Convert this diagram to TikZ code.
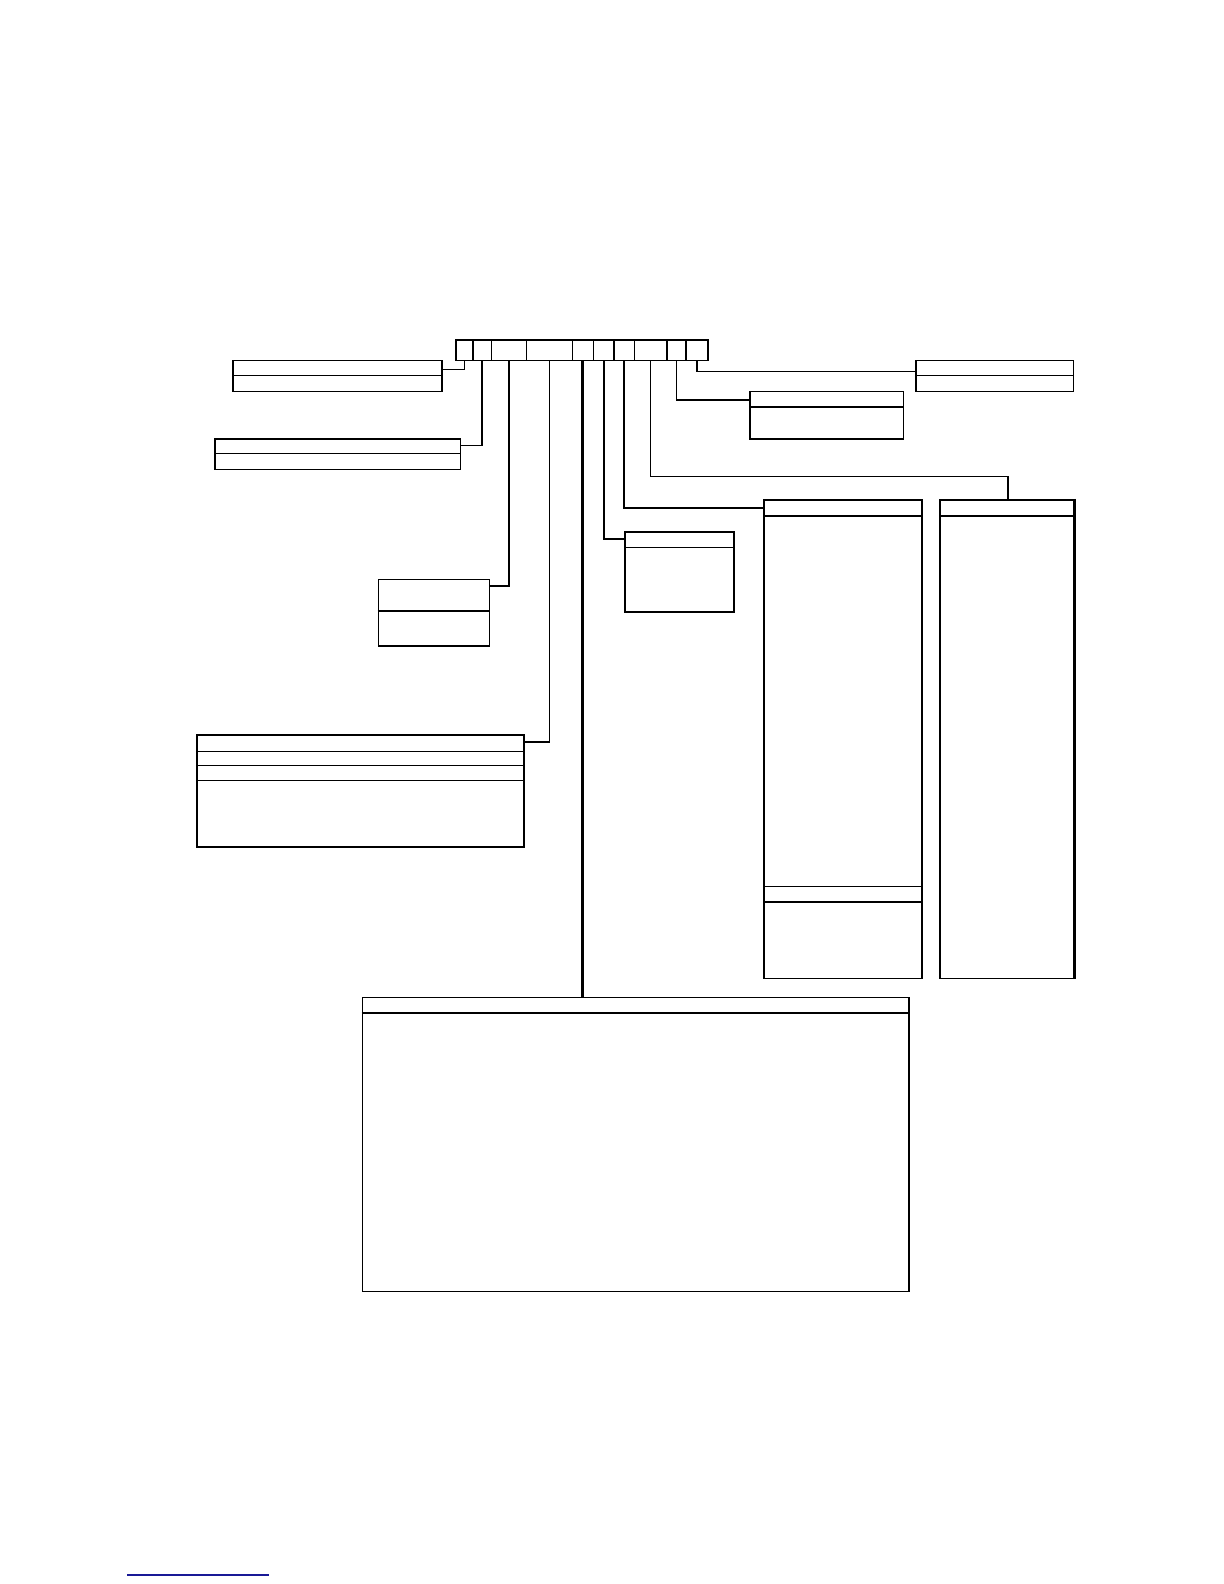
\documentclass[tikz,border=0pt]{standalone}
\usetikzlibrary{positioning}
\definecolor{rulenavy}{RGB}{25,25,150}
\begin{document}
\begin{tikzpicture}[x=0.5pt,y=-0.5pt,
  box/.style={draw, line width=0.8pt, inner sep=0pt, anchor=north west},
  cell/.style={draw, line width=0.8pt, inner sep=0pt, anchor=north west, minimum height=10pt},
  wire/.style={line width=0.8pt}]
\useasboundingbox (0,0) rectangle (1212,1568.5);

% the record strip
\node[cell, minimum width=8.25pt]  (c1)  at (451,336) {};
\node[cell, minimum width=9.1pt]   (c2)  at (467.5,336) {};
\node[cell, minimum width=17.35pt] (c3)  at (485.7,336) {};
\node[cell, minimum width=22.8pt]  (c4)  at (520.4,336) {};
\node[cell, minimum width=10.45pt] (c5)  at (566,336) {};
\node[cell, minimum width=10.25pt] (c6)  at (586.9,336) {};
\node[cell, minimum width=9.95pt]  (c7)  at (607.4,336) {};
\node[cell, minimum width=16.05pt] (c8)  at (627.3,336) {};
\node[cell, minimum width=9.55pt]  (c9)  at (659.4,336) {};
\node[cell, minimum width=10.75pt] (c10) at (678.5,336) {};

% boxes, left side
\node[box, minimum width=103.5pt, minimum height=15.5pt] (b1) at (230,356) {};
\node[box, minimum width=121.5pt, minimum height=15pt]   (b2) at (212,434) {};
\node[box, minimum width=55pt,    minimum height=33pt]   (b3) at (374,573) {};
\node[box, minimum width=162pt,   minimum height=55.5pt] (b4) at (194,727) {};
\node[box, minimum width=270.5pt, minimum height=145.5pt] (b5) at (358,987) {};

% boxes, right side
\node[box, minimum width=54pt,  minimum height=39.5pt] (b6)  at (618,526) {};
\node[box, minimum width=78pt,  minimum height=237pt]  (b7)  at (756,494) {};
\node[box, minimum width=66pt,  minimum height=237pt]  (b8)  at (930,494) {};
\node[box, minimum width=76pt,  minimum height=23.5pt] (b9)  at (742,387) {};
\node[box, minimum width=78pt,  minimum height=15.5pt] (b10) at (906,356) {};

% dividers
\draw[wire] ([yshift=-8pt]b1.north west) -- ([yshift=-8pt]b1.north east);
\draw[wire] ([yshift=-7.5pt]b2.north west) -- ([yshift=-7.5pt]b2.north east);
\draw[wire] ([yshift=-16pt]b3.north west) -- ([yshift=-16pt]b3.north east);
\draw[wire] ([yshift=-8.5pt]b4.north west) -- ([yshift=-8.5pt]b4.north east);
\draw[wire] ([yshift=-15.5pt]b4.north west) -- ([yshift=-15.5pt]b4.north east);
\draw[wire] ([yshift=-23pt]b4.north west) -- ([yshift=-23pt]b4.north east);
\draw[wire] ([yshift=-8pt]b5.north west) -- ([yshift=-8pt]b5.north east);
\draw[wire] ([yshift=-8pt]b6.north west) -- ([yshift=-8pt]b6.north east);
\draw[wire] ([yshift=-8.5pt]b7.north west) -- ([yshift=-8.5pt]b7.north east);
\draw[wire] ([yshift=-192pt]b7.north west) -- ([yshift=-192pt]b7.north east);
\draw[wire] ([yshift=-199.5pt]b7.north west) -- ([yshift=-199.5pt]b7.north east);
\draw[wire] ([yshift=-8.5pt]b8.north west) -- ([yshift=-8.5pt]b8.north east);
\draw[line width=1.5pt] (b8.north east) -- (b8.south east);
\draw[wire] ([yshift=-8pt]b9.north west) -- ([yshift=-8pt]b9.north east);
\draw[wire] ([yshift=-8pt]b10.north west) -- ([yshift=-8pt]b10.north east);

% connectors
\coordinate (k8) at (998,472);
\draw[wire] (c1.south) |- ([yshift=-5pt]b1.north east);
\draw[wire] (c2.south) |- ([yshift=-3.5pt]b2.north east);
\draw[wire] (c3.south) |- ([yshift=-3.5pt]b3.north east);
\draw[wire] (c4.south) |- ([yshift=-4pt]b4.north east);
\draw[line width=1.5pt] (c5.south) -- (c5.south |- b5.north);
\draw[wire] (c6.south) |- ([yshift=-4pt]b6.north west);
\draw[wire] (c7.south) |- ([yshift=-4.5pt]b7.north west);
\draw[wire] (c8.south) |- (k8) -- (k8 |- b8.north);
\draw[wire] (c9.south) |- ([yshift=-4.5pt]b9.north west);
\draw[wire] (c10.south) |- ([yshift=-6pt]b10.north west);

% footnote rule
\draw[rulenavy, line width=0.8pt] (126,1559.5) -- (266.5,1559.5);

\end{tikzpicture}
\end{document}
